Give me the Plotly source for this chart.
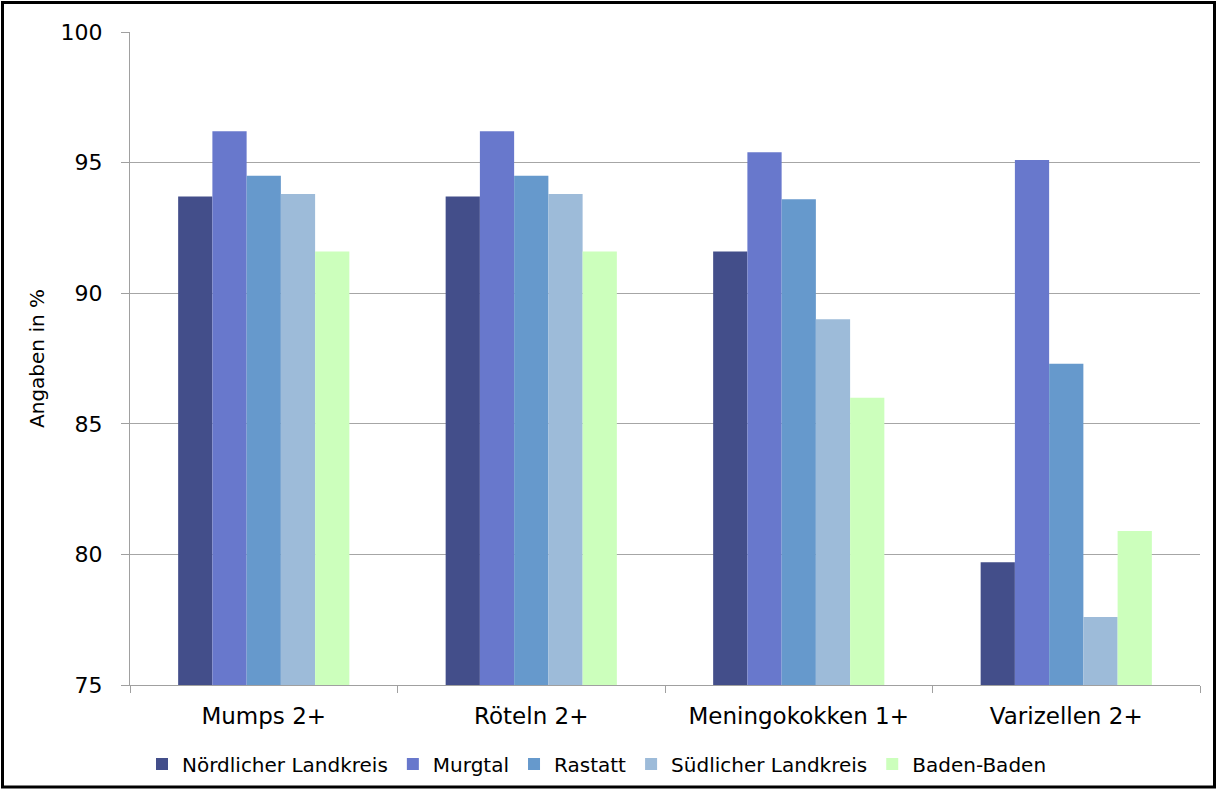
import plotly.graph_objects as go

categories = ["Mumps 2+", "Röteln 2+", "Meningokokken 1+", "Varizellen 2+"]
series_names = ["Nördlicher Landkreis", "Murgtal", "Rastatt", "Südlicher Landkreis", "Baden-Baden"]
nordlicher = [93.7, 93.7, 91.6, 79.7]
murgtal = [96.2, 96.2, 95.4, 95.1]
rastatt = [94.5, 94.5, 93.6, 87.3]
suedlicher = [93.8, 93.8, 89.0, 77.6]
baden = [91.6, 91.6, 86.0, 80.9]
colors = ["#434e8a", "#6878cc", "#6699cc", "#9dbbd9", "#ccffbc"]
y_ticks = [75, 80, 85, 90, 95, 100]

FONT = "DejaVu Sans"
fig = go.Figure()
for name, vals, col in zip(series_names, [nordlicher, murgtal, rastatt, suedlicher, baden], colors):
    fig.add_trace(go.Bar(x=categories, y=vals, name=name, marker=dict(color=col, line=dict(width=0))))

W, H = 1217, 789
L, R, T, B = 130, 1200, 32, 685
def px(x):
    return (x - L) / (R - L)
def py(y):
    return (B - y) / (B - T)

fig.update_layout(
    width=W, height=H,
    margin=dict(l=L, r=W - R, t=T, b=H - B, autoexpand=False),
    paper_bgcolor="white", plot_bgcolor="white",
    barmode="group", bargap=0.36, bargroupgap=0,
    font=dict(family=FONT, color="#000000"),
    showlegend=True,
    legend=dict(orientation="h", x=px(142), xanchor="left", y=py(764), yanchor="middle",
                font=dict(size=20, family=FONT), itemwidth=30, traceorder="normal",
                tracegroupgap=0),
    xaxis=dict(type="category", tickson="boundaries", ticks="outside", ticklen=7,
               tickcolor="#a0a0a0", showline=True, linecolor="#a0a0a0", linewidth=1,
               tickfont=dict(size=23, family=FONT), showgrid=False, ticklabelstandoff=10,
               automargin=False),
    yaxis=dict(range=[75, 100], tickvals=y_ticks, ticks="outside", ticklen=8,
               tickcolor="#a0a0a0", showline=True, linecolor="#a0a0a0", linewidth=1,
               gridcolor="#a6a6a6", gridwidth=1, tickfont=dict(size=22, family=FONT),
               ticklabelstandoff=14, automargin=False,
               title=dict(text="Angaben in %", font=dict(size=20, family=FONT), standoff=10),
               zeroline=False),
    shapes=[dict(type="rect", xref="paper", yref="paper",
                 x0=px(2.5), x1=px(1214.5), y0=py(787), y1=py(2.5),
                 line=dict(color="black", width=3), layer="above")],
)

fig.write_html("out.html")
